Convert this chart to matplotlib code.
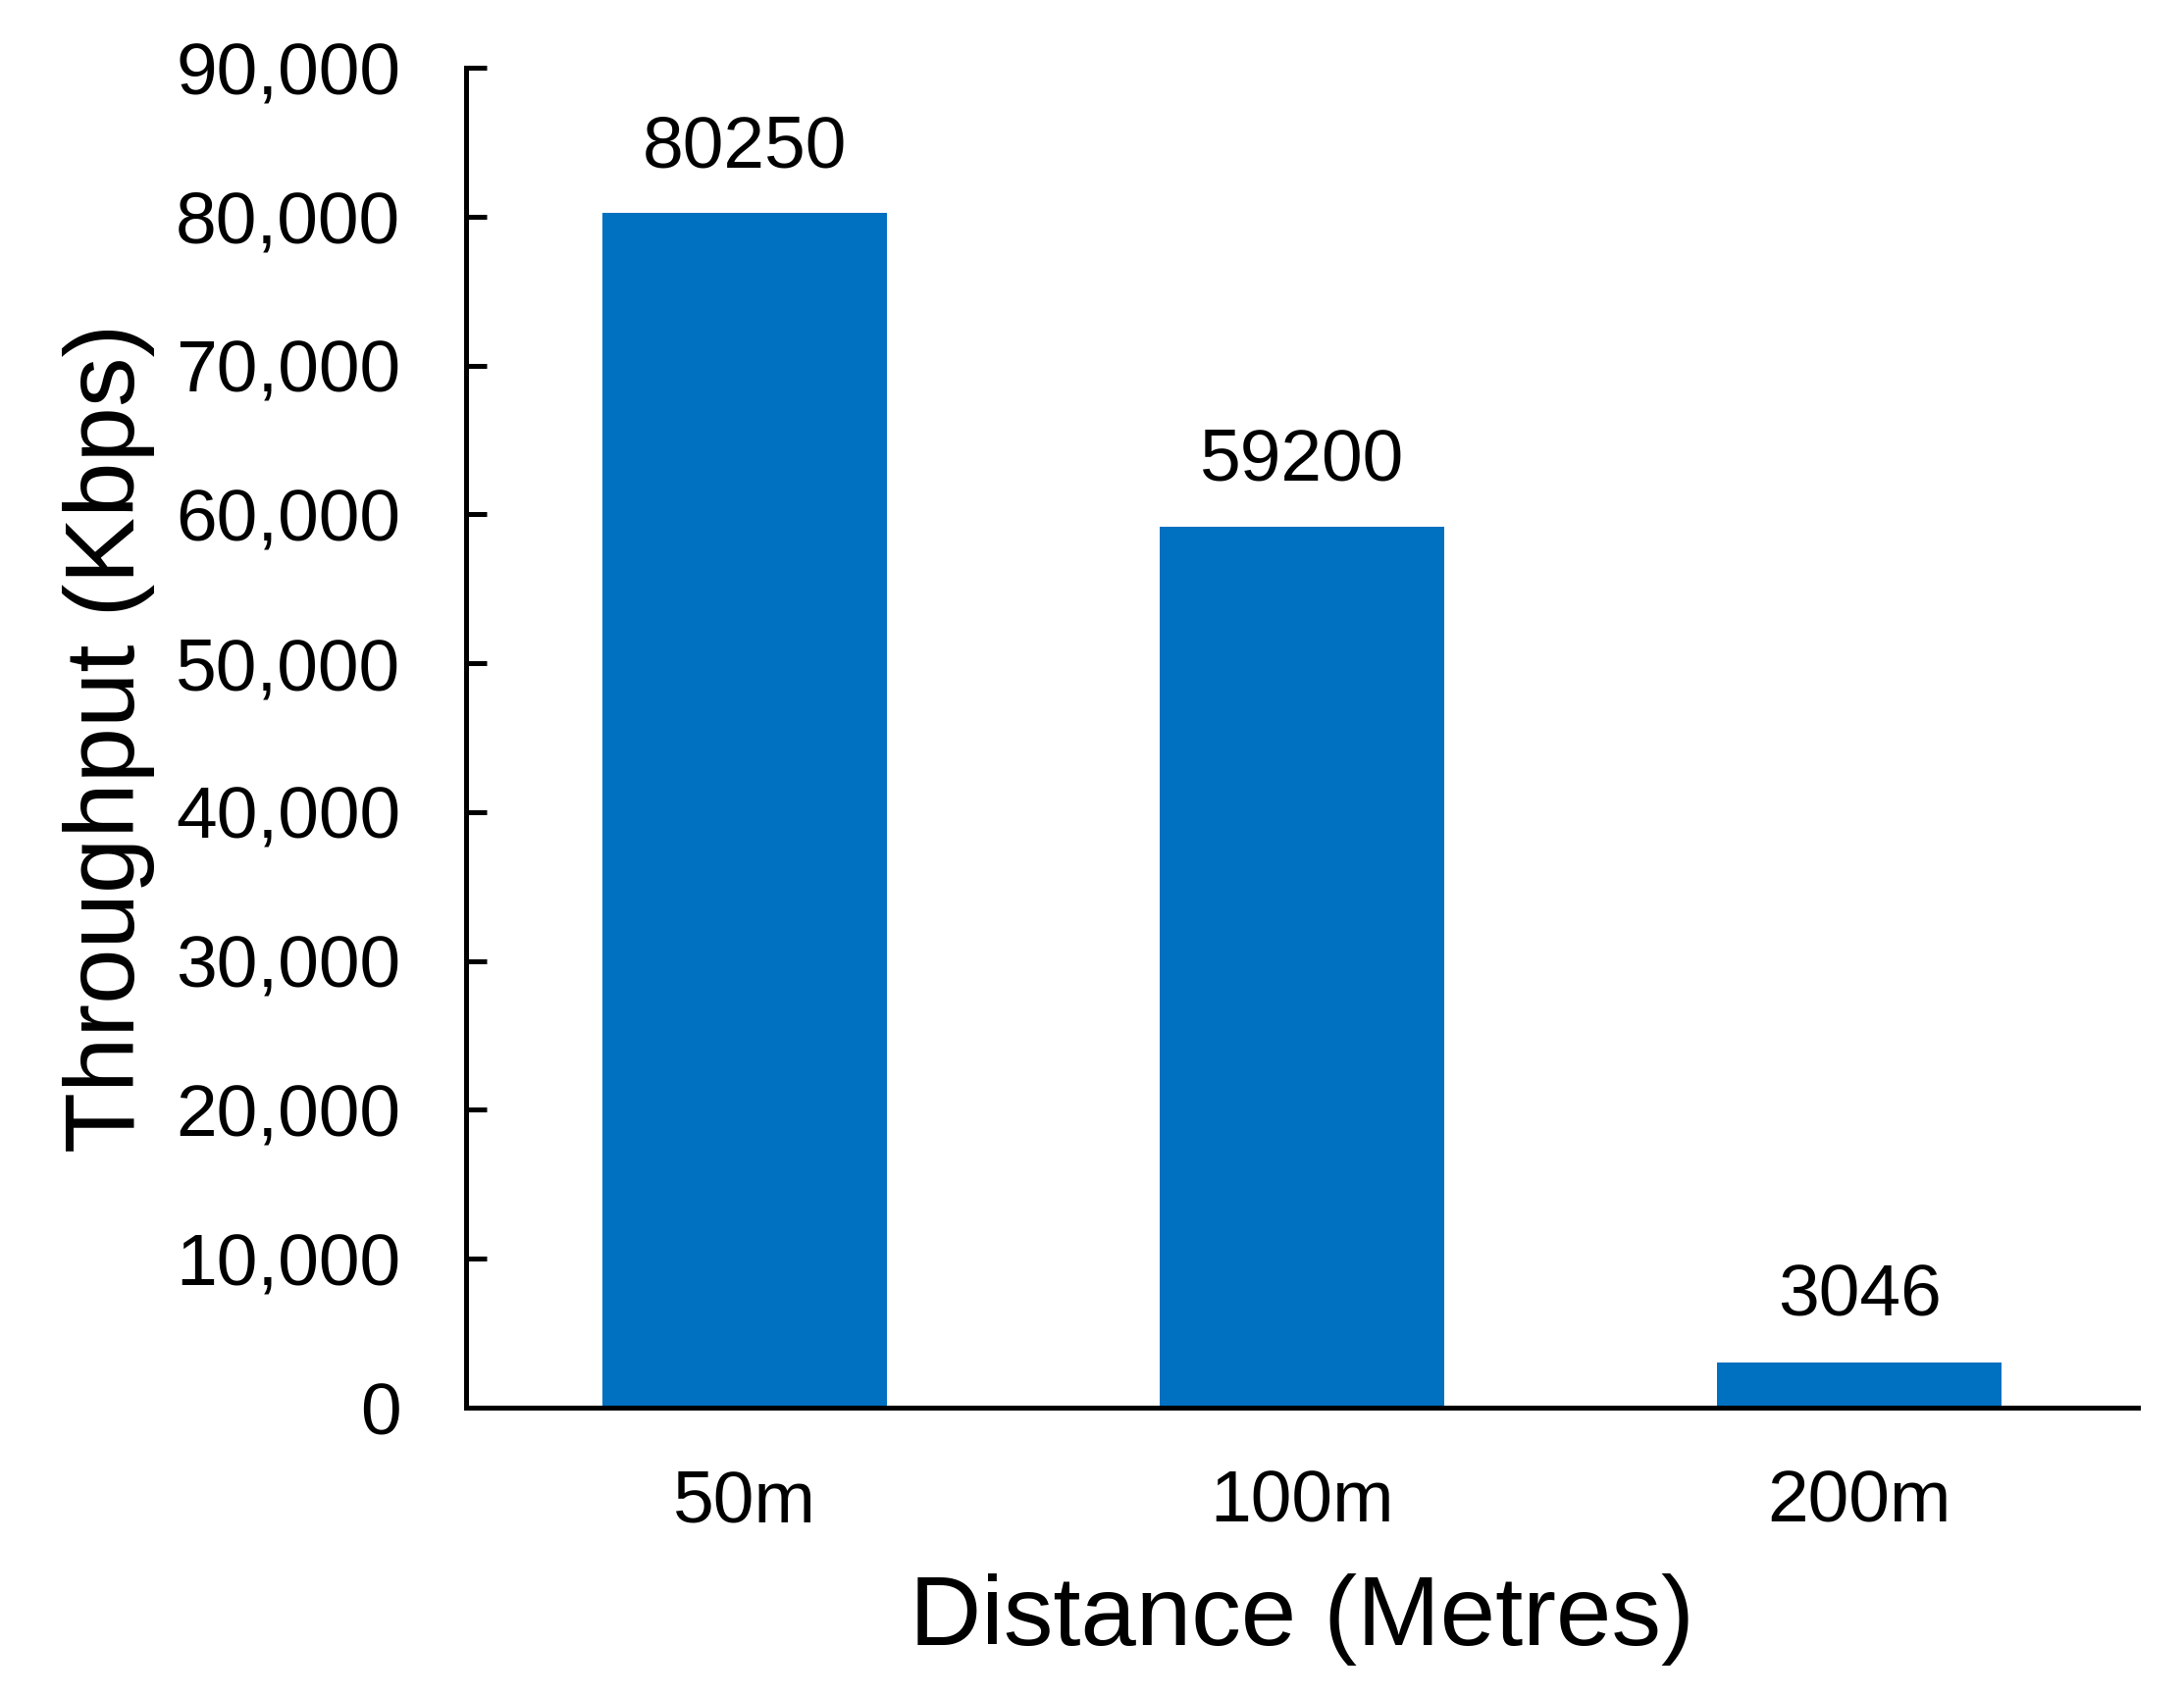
import matplotlib.pyplot as plt
from matplotlib.ticker import FuncFormatter

# data
distances = ['50m', '100m', '200m']
throughput = [80250, 59200, 3046]
yticks = list(range(0, 90001, 10000))

plt.rcParams['font.family'] = ['Liberation Sans', 'DejaVu Sans']

fig = plt.figure(figsize=(22.26, 17.30), dpi=100)
ax = fig.add_axes([0.2134, 0.1705, 0.9789 - 0.2134, 0.9601 - 0.1705])

x = range(len(distances))
bars = ax.bar(x, throughput, width=0.512, color='#0070C0')

# value labels above bars
for xi, v in zip(x, throughput):
    ax.annotate(str(v), (xi, v), xytext=(0, 23), textcoords='offset points',
                ha='center', va='bottom', fontsize=54)

ax.set_xlim(-0.5, 2.5)
ax.set_ylim(0, 90000)
ax.set_yticks(yticks)
ax.yaxis.set_major_formatter(FuncFormatter(lambda v, p: f'{int(v):,}'))
ax.set_xticks(list(x))
ax.set_xticklabels(distances)

for s in ['top', 'right']:
    ax.spines[s].set_visible(False)
for s in ['left', 'bottom']:
    ax.spines[s].set_linewidth(3.6)

ax.tick_params(axis='y', direction='in', length=15, width=3.6, labelsize=54, pad=48)
ax.tick_params(axis='x', length=0, labelsize=54, pad=45)

ax.set_xlabel('Distance (Metres)', fontsize=73, labelpad=27)
ax.set_ylabel('Throughput (Kbps)', fontsize=73, labelpad=15)

fig.savefig('out.png', dpi=100)
